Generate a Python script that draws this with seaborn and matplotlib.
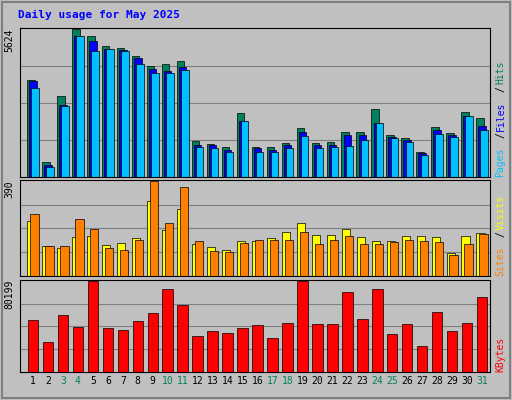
import matplotlib
matplotlib.use("Agg")
import matplotlib.pyplot as plt
import seaborn as sns
import pandas as pd

sns.set_theme(style="white")
plt.rcParams["font.family"] = ["DejaVu Sans Mono"]

days = list(range(1, 32))
weekend = [3, 4, 10, 11, 17, 18, 24, 25, 31]

hits = [3700, 566, 3095, 5624, 5359, 4982, 4906, 4604, 4227, 4302, 4416, 1359, 1245, 1132, 2453, 1132,
        1132, 1283, 1887, 1283, 1321, 1698, 1698, 2604, 1585, 1472, 944, 1925, 1660, 2491, 2264]
files = [3661, 453, 2755, 5359, 5170, 4868, 4831, 4529, 4114, 4038, 4189, 1208, 1208, 1019, 2151, 1094,
         1019, 1208, 1698, 1208, 1208, 1585, 1585, 2076, 1510, 1396, 906, 1774, 1585, 2340, 1962]
pages = [3397, 377, 2717, 5359, 4793, 4868, 4793, 4302, 3963, 3963, 4076, 1132, 1094, 944, 2151, 944,
         944, 1094, 1547, 1094, 1132, 1170, 1396, 2076, 1472, 1321, 830, 1623, 1510, 2340, 1774]
visits = [227, 122, 114, 158, 163, 126, 134, 154, 309, 187, 276, 130, 118, 106, 142, 142,
          154, 179, 219, 167, 167, 191, 158, 142, 142, 163, 163, 158, 93, 163, 175]
sites = [256, 122, 122, 232, 191, 114, 106, 146, 390, 219, 366, 142, 102, 98, 134, 146,
         146, 146, 179, 130, 146, 163, 130, 130, 138, 146, 142, 138, 85, 130, 171]
kbytes = [46100, 26740, 49790, 39650, 80199, 38720, 36880, 45180, 51630, 72840, 59010, 31350, 35960,
          34110, 38720, 41490, 29500, 43330, 79800, 42410, 42410, 70070, 47020, 72840, 33190, 42410,
          23050, 52550, 35960, 43330, 66380]

df = pd.DataFrame({"day": days, "hits": hits, "files": files, "pages": pages,
                   "visits": visits, "sites": sites, "kbytes": kbytes})

BG = "#c0c0c0"
fig = plt.figure(figsize=(5.12, 4.0), dpi=100, facecolor=BG)
fig.patches.append(plt.Rectangle((0.004, 0.004), 0.992, 0.992, transform=fig.transFigure,
                                 fill=False, edgecolor="#808080", lw=1.5))
fig.text(0.035, 0.962, "Daily usage for May 2025", color="#0000ff", fontsize=8,
         fontweight="bold", va="center")

left, width = 0.039, 0.918
ax1 = fig.add_axes([left, 0.5575, width, 0.3725])
ax2 = fig.add_axes([left, 0.31, width, 0.24])
ax3 = fig.add_axes([left, 0.07, width, 0.23])


def draw(ax, col, color, off, w):
    sns.barplot(x=df["day"] + off, y=df[col], native_scale=True, color=color, width=w,
                edgecolor="black", linewidth=0.5, saturation=1, ax=ax)


draw(ax1, "hits", "#00805c", -0.14, 0.5)
draw(ax1, "files", "#0000ff", 0.0, 0.5)
draw(ax1, "pages", "#00c0ff", 0.14, 0.5)
draw(ax2, "visits", "#ffff00", -0.1, 0.55)
draw(ax2, "sites", "#ff8000", 0.1, 0.55)
draw(ax3, "kbytes", "#ff0000", 0.0, 0.7)

for ax, top in [(ax1, 5624), (ax2, 390), (ax3, 80199)]:
    ax.set_facecolor(BG)
    ax.set_xlim(0.13, 31.53)
    ax.set_ylim(0, top * 1.01)
    ax.set_xlabel("")
    ax.set_ylabel("")
    ax.set_xticks([])
    ax.set_yticks([top * 0.25, top * 0.5, top * 0.75])
    ax.set_yticklabels([])
    ax.tick_params(length=0)
    ax.grid(axis="y", color="#808080", lw=0.8)
    ax.set_axisbelow(True)
    for s in ax.spines.values():
        s.set_color("#000000")
        s.set_linewidth(0.8)
    ax.text(-0.012, 1.0, str(top), transform=ax.transAxes, rotation=90, ha="right",
            va="top", fontsize=7, color="black")

def side(ax, parts):
    y = 0.0
    for txt, c in parts:
        t = ax.text(1.012, y, txt, transform=ax.transAxes, rotation=90, ha="left",
                    va="bottom", fontsize=7, color=c)
        y += len(txt) * 0.052 * (0.3725 / ax.get_position().height)

side(ax1, [("Pages", "#00c0ff"), ("/", "#000000"), ("Files", "#0000ff"), ("/", "#000000"), ("Hits", "#00805c")])
side(ax2, [("Sites", "#ff8000"), ("/", "#000000"), ("Visits", "#ffff00")])
side(ax3, [("KBytes", "#ff0000")])

for d in days:
    ax3.text(d, -0.04, str(d), transform=ax3.get_xaxis_transform(), ha="center", va="top",
             fontsize=7, color="#00805c" if d in weekend else "black")

plt.savefig("out.png", dpi=100, facecolor=BG)
